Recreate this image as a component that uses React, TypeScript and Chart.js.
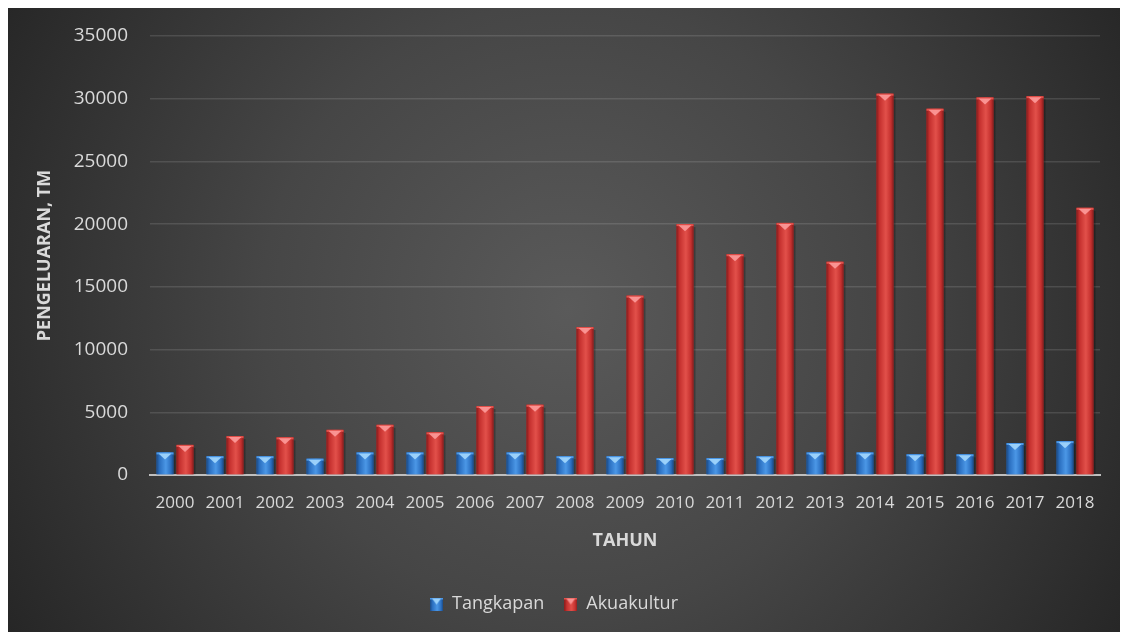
import React, { useEffect, useRef } from "react";
import { Chart, registerables } from "chart.js";
Chart.register(...registerables);

const years = ["2000", "2001", "2002", "2003", "2004", "2005", "2006", "2007", "2008", "2009", "2010", "2011", "2012", "2013", "2014", "2015", "2016", "2017", "2018"];
const tangkapan = [1800, 1500, 1500, 1300, 1800, 1800, 1800, 1800, 1500, 1500, 1350, 1350, 1500, 1800, 1800, 1650, 1650, 2550, 2700];
const akuakultur = [2400, 3100, 3000, 3600, 4000, 3400, 5500, 5600, 11800, 14300, 20000, 17600, 20100, 17000, 30400, 29200, 30100, 30200, 21300];
const yMax = 35000;
const yStep = 5000;

const FONT = "'Open Sans', 'Noto Sans', sans-serif";
const TEXT = "#d9d9d9";

type Palette = { dark: string; base: string; light: string; tri: string };
const BLUE: Palette = { dark: "#1b4a85", base: "#2b6fc0", light: "#4b97e6", tri: "#a9dcff" };
const RED: Palette = { dark: "#861c1c", base: "#c4302e", light: "#e2504a", tri: "#ffa0a0" };

function drawBevelBar(ctx: CanvasRenderingContext2D, left: number, top: number, right: number, bottom: number, p: Palette) {
  const w = right - left;
  if (w <= 0 || bottom - top <= 0) return;
  const g = ctx.createLinearGradient(left, 0, right, 0);
  g.addColorStop(0, p.dark);
  g.addColorStop(0.18, p.base);
  g.addColorStop(0.55, p.light);
  g.addColorStop(0.85, p.base);
  g.addColorStop(1, p.dark);
  ctx.fillStyle = g;
  ctx.fillRect(left, top, w, bottom - top);
  ctx.fillStyle = p.light;
  ctx.fillRect(left, top, w, 2);
  const cx = (left + right) / 2;
  const h = Math.min(7, bottom - top);
  ctx.beginPath();
  ctx.moveTo(left + 2, top + 1);
  ctx.lineTo(right - 2, top + 1);
  ctx.lineTo(cx, top + h);
  ctx.closePath();
  ctx.fillStyle = p.tri;
  ctx.globalAlpha = 0.85;
  ctx.fill();
  ctx.globalAlpha = 1;
}

function makeMarker(p: Palette): HTMLCanvasElement {
  const c = document.createElement("canvas");
  c.width = 13;
  c.height = 13;
  const ctx = c.getContext("2d")!;
  drawBevelBar(ctx, 0, 0, 13, 13, p);
  return c;
}

const bgPlugin = {
  id: "bgRadial",
  beforeDraw(chart: any) {
    const { ctx, width, height } = chart;
    ctx.save();
    const g = ctx.createRadialGradient(560, 300, 0, 560, 300, 680);
    g.addColorStop(0, "#5a5a5a");
    g.addColorStop(0.45, "#464646");
    g.addColorStop(1, "#232323");
    ctx.fillStyle = g;
    ctx.fillRect(0, 0, width, height);
    ctx.restore();
  },
};

const bevelPlugin = {
  id: "bevelBars",
  afterDatasetsDraw(chart: any) {
    const ctx: CanvasRenderingContext2D = chart.ctx;
    ctx.save();
    chart.data.datasets.forEach((ds: any, i: number) => {
      const meta = chart.getDatasetMeta(i);
      const pal = i === 0 ? BLUE : RED;
      meta.data.forEach((el: any) => {
        const { x, y, base, width } = el.getProps(["x", "y", "base", "width"], true);
        const left = x - width / 2;
        const right = x + width / 2;
        ctx.fillStyle = "rgba(0,0,0,0.25)";
        ctx.fillRect(right, y + 3, 2, base - y - 3);
        drawBevelBar(ctx, left, y, right, base, pal);
      });
    });
    ctx.restore();
  },
};

export default function App() {
  const ref = useRef<HTMLCanvasElement | null>(null);
  useEffect(() => {
    if (!ref.current) return;
    const blueMarker = makeMarker(BLUE);
    const redMarker = makeMarker(RED);
    const chart = new Chart(ref.current, {
      type: "bar",
      data: {
        labels: years,
        datasets: [
          { label: "Tangkapan", data: tangkapan, backgroundColor: BLUE.base, pointStyle: blueMarker as any },
          { label: "Akuakultur", data: akuakultur, backgroundColor: RED.base, pointStyle: redMarker as any },
        ],
      },
      options: {
        responsive: false,
        animation: false,
        datasets: { bar: { categoryPercentage: 0.8, barPercentage: 0.85 } },
        layout: { padding: { top: 28, right: 28, left: 0, bottom: 9 } },
        plugins: {
          tooltip: { enabled: false },
          legend: {
            position: "bottom",
            labels: {
              usePointStyle: true,
              boxWidth: 13,
              boxHeight: 13,
              padding: 20,
              color: TEXT,
              font: { family: FONT, size: 18 },
            },
          },
        },
        scales: {
          x: {
            grid: { display: false },
            border: { display: true, color: "#bfbfbf", width: 2 },
            ticks: {
              color: TEXT,
              font: { family: FONT, size: 17 },
              autoSkip: false,
              maxRotation: 0,
              padding: 10,
            },
            title: {
              display: true,
              text: "TAHUN",
              color: TEXT,
              font: { family: FONT, size: 18, weight: "bold" },
              padding: { top: 0, bottom: 23 },
            },
            afterFit: (s: any) => {
              s.height = 100;
            },
          },
          y: {
            min: 0,
            max: yMax,
            ticks: {
              stepSize: yStep,
              color: TEXT,
              font: { family: FONT, size: 19 },
              padding: 22,
              callback: (v: any) => String(v),
            },
            grid: { color: "rgba(255,255,255,0.12)", drawTicks: false, lineWidth: 1.5 },
            border: { display: false },
            title: {
              display: true,
              text: "PENGELUARAN, TM",
              color: TEXT,
              font: { family: FONT, size: 18, weight: "bold" },
              padding: { top: 26, bottom: 0 },
            },
            afterFit: (s: any) => {
              s.width = 142;
              s.paddingTop = 10;
              s.paddingBottom = 0;
            },
          },
        },
      },
      plugins: [bgPlugin, bevelPlugin],
    } as any);
    return () => chart.destroy();
  }, []);
  return (
    <div style={{ width: 1120, height: 624 }}>
      <canvas ref={ref} width={1120} height={624} style={{ display: "block", width: 1120, height: 624 }} />
    </div>
  );
}
